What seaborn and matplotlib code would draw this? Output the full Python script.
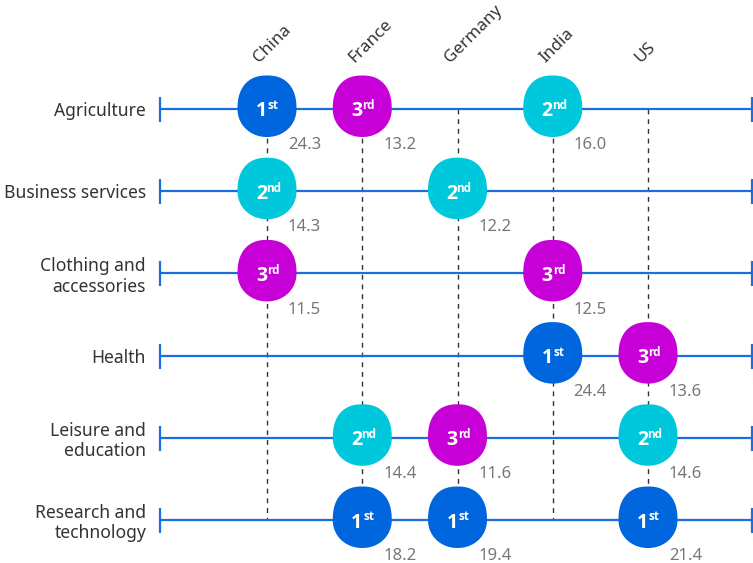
import numpy as np
import pandas as pd
import seaborn as sns
import matplotlib.pyplot as plt
from matplotlib.path import Path

sns.set_theme(style="white")
plt.rcParams['font.family'] = ['Noto Sans', 'DejaVu Sans']

countries = ["China", "France", "Germany", "India", "US"]
sectors = ["Agriculture", "Business services", "Clothing and\naccessories",
           "Health", "Leisure and\neducation", "Research and\ntechnology"]

# one entry per bubble
sector_of = [0, 0, 0, 1, 1, 2, 2, 3, 3, 4, 4, 4, 5, 5, 5]
country_of = ["China", "France", "India", "China", "Germany", "China", "India",
              "India", "US", "France", "Germany", "US", "France", "Germany", "US"]
rank = [1, 3, 2, 2, 2, 3, 3, 1, 3, 2, 3, 2, 1, 1, 1]
share = [24.3, 13.2, 16.0, 14.3, 12.2, 11.5, 12.5, 24.4, 13.6, 14.4, 11.6, 14.6,
         18.2, 19.4, 21.4]

df = pd.DataFrame({"sector": sector_of, "country": country_of,
                   "rank": rank, "share": share})
df["col"] = df["country"].map({c: i for i, c in enumerate(countries)})

rank_colors = {1: "#0066DD", 2: "#00C8DC", 3: "#C800D8"}
suffix = {1: "st", 2: "nd", 3: "rd"}
line_blue = "#1A6FDF"

# blob marker: flatter on top, rounder at the bottom, sitting a bit high
t = np.linspace(0, 2 * np.pi, 240)
top = np.sin(t) > 0
n = np.where(top, 2.35, 2.05)
sx = np.sign(np.cos(t)) * np.abs(np.cos(t)) ** (2 / n) * 29.5
sy = np.sign(np.sin(t)) * np.abs(np.sin(t)) ** (2 / n) * np.where(top, 33.5, 28)
blob = Path(np.column_stack([sx, sy]))
msize = (2 * np.abs(sy).max() * 0.72) ** 2

fig = plt.figure(figsize=(7.53, 5.63), dpi=100)
ax = fig.add_axes([160 / 753, 0, 593 / 753, 1])
ax.set_xlim(-1.1234, 5.1024)
ax.set_ylim(5.523, -1.326)

# dashed column guides
ax.vlines(range(len(countries)), 0, len(sectors) - 1, colors="#333333",
          linestyles=(0, (3.5, 3.5)), linewidth=1, zorder=1)

# row lines with end caps
ax.hlines(range(len(sectors)), -1.1234, 5.092, colors=line_blue,
          linewidth=1.6, zorder=2, clip_on=False)
for y in range(len(sectors)):
    ax.plot([-1.1234, 5.092], [y, y], ls="none", marker="|", ms=18,
            mew=1.6, color=line_blue, zorder=2, clip_on=False)

sns.scatterplot(data=df, x="col", y="sector", hue="rank", palette=rank_colors,
                marker=blob, s=msize, edgecolor="none", linewidth=0,
                legend=False, ax=ax, zorder=3, clip_on=False)

bold = ['Open Sans', 'DejaVu Sans']
for _, r in df.iterrows():
    ax.annotate(str(r["rank"]), (r["col"], r["sector"]), xytext=(-4, -1.8),
                textcoords="offset points", ha="center", va="center",
                fontsize=14, fontweight="bold", family=bold, color="white",
                zorder=4)
    ax.annotate(suffix[r["rank"]], (r["col"], r["sector"]), xytext=(4.6, 2.3),
                textcoords="offset points", ha="center", va="center",
                fontsize=8.5, fontweight="bold", family=bold, color="white",
                zorder=4)
    ax.annotate(f"{r['share']:.1f}", (r["col"], r["sector"]), xytext=(15, -26),
                textcoords="offset points", ha="left", va="center",
                fontsize=12, color="#777777", zorder=4)

for i, c in enumerate(countries):
    ax.annotate(c, (i, 0), xytext=(-5.5, 33), textcoords="offset points",
                rotation=45, rotation_mode="anchor", ha="left", va="baseline",
                fontsize=12.3, color="#333333")

ax.set_yticks(range(len(sectors)))
ax.set_yticklabels(sectors, fontsize=12.6, color="#333333", linespacing=1.15)
ax.tick_params(axis="y", length=0, pad=10)
ax.set_xticks([])
ax.set_xlabel("")
ax.set_ylabel("")
sns.despine(ax=ax, left=True, bottom=True)

fig.savefig("out.png", dpi=100)
